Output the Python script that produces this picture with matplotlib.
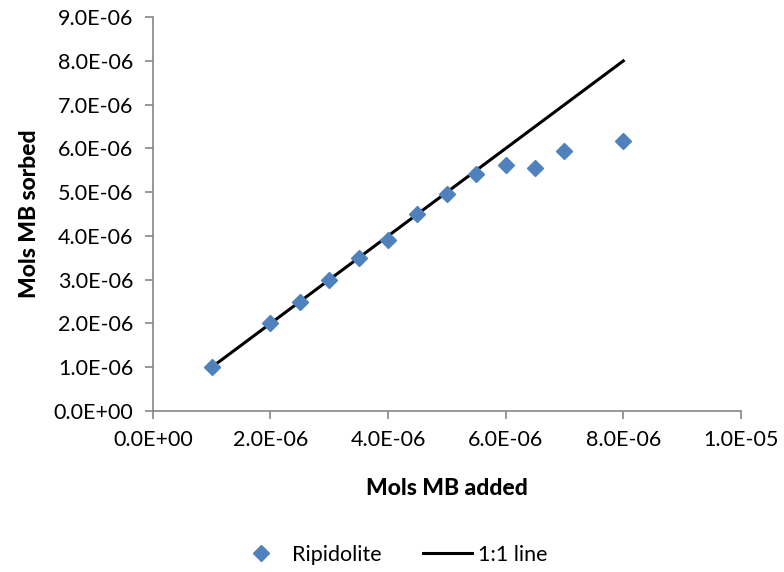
import matplotlib
matplotlib.use("Agg")
import matplotlib.pyplot as plt
from matplotlib.ticker import FuncFormatter, MultipleLocator

plt.rcParams['font.family'] = ['Lato', 'DejaVu Sans']

# data
mb_added = [1.0e-6, 2.0e-6, 2.5e-6, 3.0e-6, 3.5e-6, 4.0e-6, 4.5e-6,
            5.0e-6, 5.5e-6, 6.0e-6, 6.5e-6, 7.0e-6, 8.0e-6]
mb_sorbed = [1.0e-6, 2.0e-6, 2.5e-6, 3.0e-6, 3.5e-6, 3.9e-6, 4.5e-6,
             4.95e-6, 5.42e-6, 5.62e-6, 5.55e-6, 5.93e-6, 6.18e-6]
line_x = [1.0e-6, 8.0e-6]
line_y = [1.0e-6, 8.0e-6]


def sci(v, pos):
    return "%.1E" % v


fig = plt.figure(figsize=(7.84, 5.72), dpi=100)
ax = fig.add_axes([0.195, 0.2815, 0.75, 0.6885])

ax.plot(mb_added, mb_sorbed, linestyle='none', marker='D', markersize=8.5,
        color='#4F81BD', label='Ripidolite', zorder=3)
ax.plot(line_x, line_y, color='black', linewidth=2.2, label='1:1 line', zorder=2)

ax.set_xlim(0, 1.0e-5)
ax.set_ylim(0, 9.0e-6)
ax.xaxis.set_major_locator(MultipleLocator(2e-6))
ax.yaxis.set_major_locator(MultipleLocator(1e-6))
ax.xaxis.set_major_formatter(FuncFormatter(sci))
ax.yaxis.set_major_formatter(FuncFormatter(sci))

for s in ['top', 'right']:
    ax.spines[s].set_visible(False)
for s in ['left', 'bottom']:
    ax.spines[s].set_color('#868686')
    ax.spines[s].set_linewidth(1.2)
ax.tick_params(direction='out', length=6, width=1.2, color='#868686',
               labelsize=15.5, pad=8)

ax.set_xlabel('Mols MB added', fontsize=16.5, fontweight='black', labelpad=20)
ax.set_ylabel('Mols MB sorbed', fontsize=16.5, fontweight='black', labelpad=10)

fig.legend(loc='center', bbox_to_anchor=(0.5, 0.03), ncol=2, frameon=False,
           fontsize=15.5, handlelength=2.3, handletextpad=0.3,
           columnspacing=1.9)

fig.savefig('out.png', dpi=100)
